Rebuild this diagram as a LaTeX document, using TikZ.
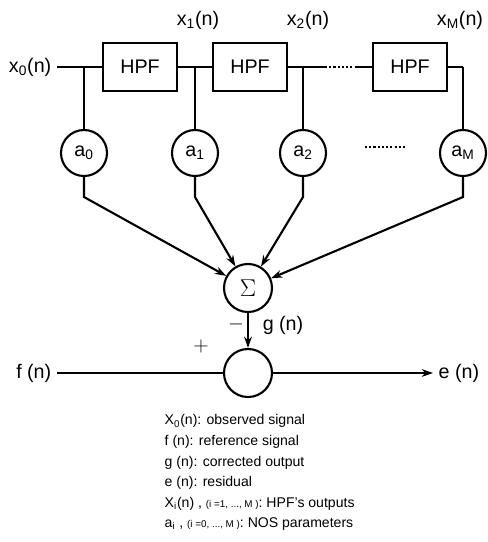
\documentclass[tikz,border=0pt]{standalone}
\usepackage{fontspec}
\setmainfont{Liberation Sans}
\usetikzlibrary{positioning, arrows.meta}

\begin{document}
\begin{tikzpicture}[>={Stealth[length=8pt, width=5.5pt]}, x=0.025cm, y=-0.025cm, line width=1.5pt,
  filt/.style={draw, minimum width=1.85cm, minimum height=1.2cm, font=\fontsize{14}{16}\selectfont},
  coef/.style={draw, circle, minimum size=1.15cm, inner sep=0pt, font=\fontsize{14}{16}\selectfont},
  sumnode/.style={draw, circle, minimum size=1.2cm, inner sep=0pt},
  lbl/.style={font=\fontsize{14}{16}\selectfont},
  dots/.style={line width=1.2pt, dash pattern=on 1.5pt off 1.5pt}]
  \useasboundingbox (0,0) rectangle (488,542);
  \node[filt] (hpf1) at (140,67) {HPF};
  \node[filt] (hpf2) at (250,67) {HPF};
  \node[filt] (hpf3) at (410,67) {HPF};
  \node[lbl, anchor=east] (x0lbl) at (57,67) {x\textsubscript{0}(n)};
  \node[lbl] (x1lbl) at (198,20) {x\textsubscript{1}(n)};
  \node[lbl] (x2lbl) at (308,20) {x\textsubscript{2}(n)};
  \node[lbl] (xMlbl) at (460,20) {x\textsubscript{M}(n)};
  \coordinate (j0) at (84,67);
  \coordinate (j1) at (195,67);
  \coordinate (j2) at (303,67);
  \coordinate (jM) at (463,67);
  \coordinate (d1) at (325,67);
  \coordinate (d2) at (357,67);
  \draw (x0lbl.east) -- (j0) -- (hpf1.west);
  \draw (hpf1.east) -- (j1) -- (hpf2.west);
  \draw (hpf2.east) -- (j2) -- (d1);
  \draw[dots] (d1) -- (d2);
  \draw (d2) -- (hpf3.west);
  \draw (hpf3.east) -- (jM);
  \node[coef] (a0) at (84,153) {a\textsubscript{0}};
  \node[coef] (a1) at (195,153) {a\textsubscript{1}};
  \node[coef] (a2) at (303,153) {a\textsubscript{2}};
  \node[coef] (aM) at (463,153) {a\textsubscript{M}};
  \draw[dots] (365,147) -- (405,147);
  \draw (j0) -- (a0);
  \draw (j1) -- (a1);
  \draw (j2) -- (a2);
  \draw (jM) -- (aM);
  \node[sumnode, font=\fontsize{16}{18}\selectfont] (sig) at (248,288) {$\Sigma$};
  \node[sumnode] (sub) at (248,373) {};
  \coordinate (k0) at (84,197);
  \coordinate (k1) at (195,197);
  \coordinate (k2) at (303,197);
  \coordinate (kM) at (463,197);
  \draw[->] (a0) -- (k0) -- (sig);
  \draw[->] (a1) -- (k1) -- (sig);
  \draw[->] (a2) -- (k2) -- (sig);
  \draw[->] (aM) -- (kM) -- (sig);
  \draw[->] (sig) -- (sub);
  \node[lbl] (gn) at (283,325) {g (n)};
  \node[lbl] (minus) at (236,324) {$-$};
  \node[lbl] (plus) at (201,346) {$+$};
  \node[lbl, anchor=east] (fn) at (57,373) {f (n)};
  \node[lbl, anchor=west] (en) at (433,373) {e (n)};
  \draw (fn.east) -- (sub);
  \draw[->] (sub) -- (en.west);
  \node[anchor=north west, align=left, font=\fontsize{10}{14.6}\selectfont] (legend) at (159,409)
    {X\textsubscript{0}(n): observed signal\\
     f (n): reference signal\\
     g (n): corrected output\\
     e (n): residual\\
     X\textsubscript{i}(n) , {\scriptsize (i =1, ..., M )}: HPF's outputs\\
     a\textsubscript{i} , {\scriptsize (i =0, ..., M )}: NOS parameters};
\end{tikzpicture}
\end{document}
